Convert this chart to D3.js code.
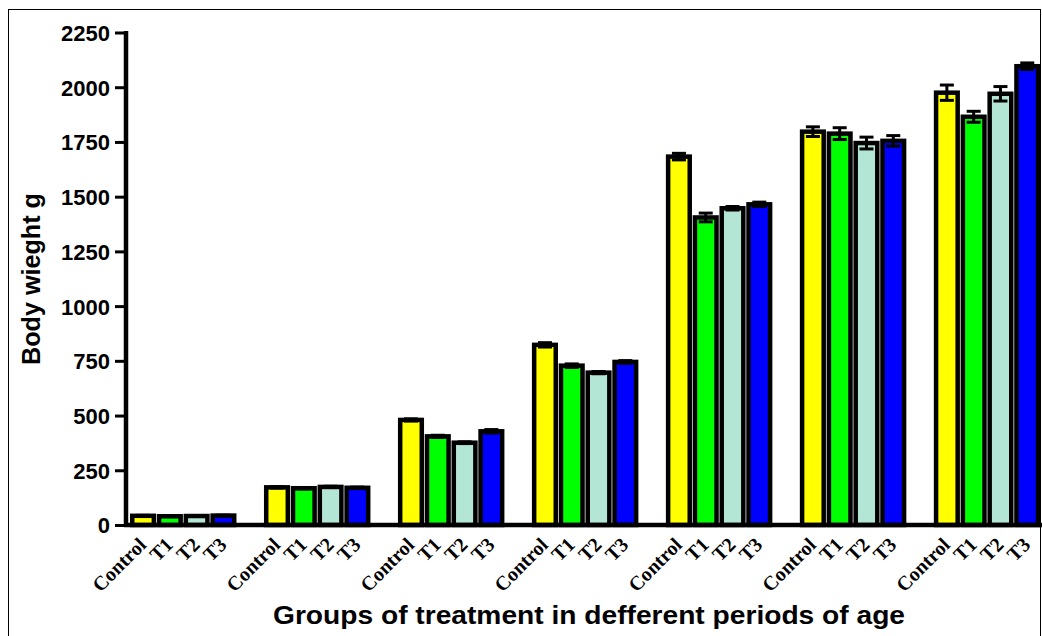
<!DOCTYPE html>
<html>
<head>
<meta charset="utf-8">
<script src="https://cdn.jsdelivr.net/npm/d3@7"></script>
<style>
  html, body { margin: 0; padding: 0; background: #fff; }
  svg { display: block; }
</style>
</head>
<body>
<svg id="chart" width="1042" height="636"></svg>
<script>
// ---- data ----
const periods = ["P1", "P2", "P3", "P4", "P5", "P6", "P7"];
const groups = ["Control", "T1", "T2", "T3"];
const groupColors = ["#ffff00", "#00ff00", "#b4e6d6", "#0000ff"];
const controlValues = [42, 172, 480, 823, 1683, 1797, 1975];
const t1Values      = [40, 168, 405, 728, 1405, 1788, 1865];
const t2Values      = [41, 174, 376, 696, 1447, 1745, 1970];
const t3Values      = [43, 170, 428, 745, 1465, 1755, 2096];
const controlErr = [2, 3, 5, 10, 15, 22, 35];
const t1Err      = [2, 3, 5, 8, 20, 27, 25];
const t2Err      = [2, 3, 4, 5, 8, 27, 33];
const t3Err      = [2, 3, 8, 6, 10, 24, 15];
const yTicks = [0, 250, 500, 750, 1000, 1250, 1500, 1750, 2000, 2250];
const yLabel = "Body wieght g";
const xLabel = "Groups of treatment in defferent periods of age";

const seriesValues = [controlValues, t1Values, t2Values, t3Values];
const seriesErr = [controlErr, t1Err, t2Err, t3Err];
const rows = [];
periods.forEach((p, i) => {
  groups.forEach((g, j) => {
    rows.push({ period: p, group: g, gi: j, value: seriesValues[j][i], err: seriesErr[j][i] });
  });
});

// ---- layout ----
const svg = d3.select("#chart");
const axisX = 126, axisY0 = 525, axisYTop = 32.5;

svg.append("rect")
  .attr("x", 8.5).attr("y", 9.5).attr("width", 1032).attr("height", 640)
  .attr("fill", "none").attr("stroke", "#000").attr("stroke-width", 1);

const y = d3.scaleLinear().domain([0, 2250]).range([axisY0, axisYTop]);
const x0 = d3.scaleBand().domain(periods).range([130, 1041]).paddingInner(0.2).paddingOuter(0);
const x1 = d3.scaleBand().domain(groups).range([0, x0.bandwidth()]).padding(0);
const color = d3.scaleOrdinal().domain(groups).range(groupColors);

const sw = 4.5;
// bars
svg.append("g").selectAll("rect")
  .data(rows).join("rect")
  .attr("x", d => x0(d.period) + x1(d.group) + sw / 2)
  .attr("width", x1.bandwidth() - sw - 0.7)
  .attr("y", d => y(d.value))
  .attr("height", d => y(0) - y(d.value))
  .attr("fill", d => color(d.group))
  .attr("stroke", "#000")
  .attr("stroke-width", sw);

// error bars
const eb = svg.append("g").attr("stroke", "#000").attr("stroke-width", 3);
rows.forEach(d => {
  const cx = x0(d.period) + x1(d.group) + x1.bandwidth() / 2 - 0.35;
  eb.append("line").attr("x1", cx).attr("x2", cx)
    .attr("y1", y(d.value - d.err)).attr("y2", y(d.value + d.err));
  [d.value - d.err, d.value + d.err].forEach(v => {
    eb.append("line").attr("x1", cx - 7).attr("x2", cx + 7)
      .attr("y1", y(v)).attr("y2", y(v));
  });
});

// y axis
const yAxis = d3.axisLeft(y).tickValues(yTicks).tickSize(11).tickPadding(5).tickFormat(d3.format("d"));
const gy = svg.append("g").attr("transform", `translate(${axisX},0)`).call(yAxis);
gy.select(".domain").remove();
gy.selectAll(".tick line").attr("stroke", "#000").attr("stroke-width", 3);
gy.selectAll(".tick text")
  .attr("font-family", "'Liberation Sans', Arial, sans-serif")
  .attr("font-weight", "bold").attr("font-size", 22).attr("fill", "#000")
  .attr("dy", "0.36em");
svg.append("line").attr("x1", axisX).attr("x2", axisX)
  .attr("y1", axisYTop - 1.5).attr("y2", axisY0 + 2)
  .attr("stroke", "#000").attr("stroke-width", 4.5);

// x axis line
svg.append("line").attr("x1", axisX - 2).attr("x2", 1042)
  .attr("y1", axisY0).attr("y2", axisY0)
  .attr("stroke", "#000").attr("stroke-width", 4.5);

// x tick labels
svg.append("g").selectAll("text")
  .data(rows).join("text")
  .attr("transform", d => {
    const cx = x0(d.period) + x1(d.group) + x1.bandwidth() / 2;
    return `translate(${cx + 4},${axisY0 + 21}) rotate(-45)`;
  })
  .attr("text-anchor", "end")
  .attr("font-family", "'Liberation Serif', 'Times New Roman', serif")
  .attr("font-weight", "bold").attr("font-size", 20).attr("fill", "#000")
  .text(d => d.group);

// axis titles
svg.append("text")
  .attr("x", 589).attr("y", 624)
  .attr("text-anchor", "middle")
  .attr("textLength", 632).attr("lengthAdjust", "spacingAndGlyphs")
  .attr("font-family", "'Liberation Sans', Arial, sans-serif")
  .attr("font-weight", "bold").attr("font-size", 25).attr("fill", "#000")
  .text(xLabel);

svg.append("text")
  .attr("transform", `translate(40,279) rotate(-90)`)
  .attr("text-anchor", "middle")
  .attr("textLength", 172).attr("lengthAdjust", "spacingAndGlyphs")
  .attr("font-family", "'Liberation Sans', Arial, sans-serif")
  .attr("font-weight", "bold").attr("font-size", 25).attr("fill", "#000")
  .text(yLabel);
</script>
</body>
</html>
